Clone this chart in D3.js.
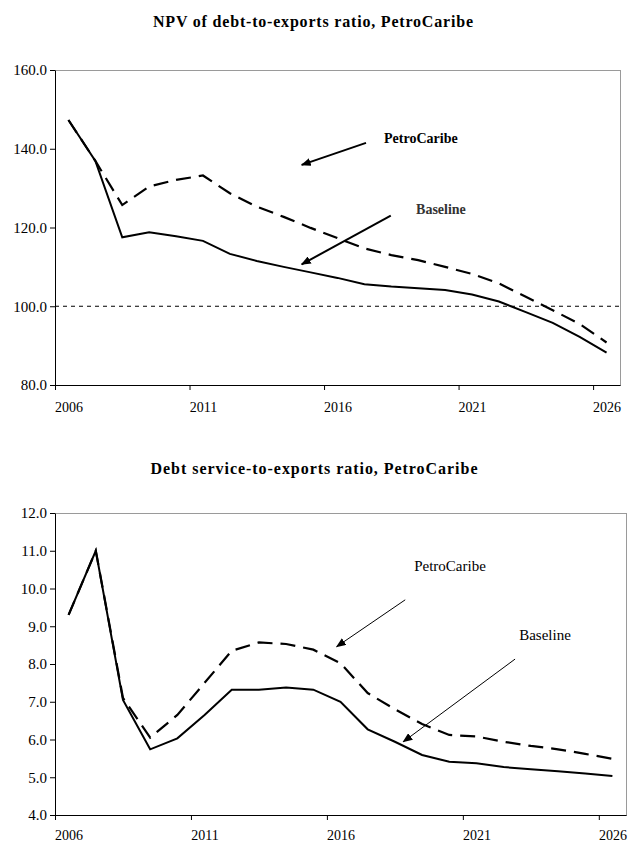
<!DOCTYPE html>
<html lang="en">
<head>
<meta charset="UTF-8">
<script src="https://d3js.org/d3.v7.min.js"></script>
<title>PetroCaribe debt ratios</title>
<style>
  body { margin: 0; background: #fff; }
  svg { display: block; }
</style>
</head>
<body>
<div id="chart"></div>
<script>
// categories
const years = [2006, 2007, 2008, 2009, 2010, 2011, 2012, 2013, 2014, 2015, 2016,
               2017, 2018, 2019, 2020, 2021, 2022, 2023, 2024, 2025, 2026];
const yearLabels = [2006, 2011, 2016, 2021, 2026];

// NPV of debt-to-exports ratio
const npvBaseline = [147.3, 136.9, 117.5, 118.8, 117.8, 116.6, 113.3, 111.5, 110.0, 108.6, 107.2,
                     105.6, 105.0, 104.6, 104.1, 103.0, 101.2, 98.5, 95.8, 92.2, 88.2];
const npvPetro = [147.3, 136.9, 125.7, 130.4, 132.1, 133.2, 128.7, 125.3, 122.7, 119.9, 117.3,
                  114.7, 113.0, 111.7, 110.0, 108.2, 105.8, 102.4, 99.0, 95.5, 90.8];
const npvTicks = [80, 100, 120, 140, 160];
const npvThreshold = 100;

// Debt service-to-exports ratio
const dsBaseline = [9.3, 11.0, 7.05, 5.74, 6.03, 6.65, 7.32, 7.32, 7.38, 7.32, 7.0,
                    6.27, 5.94, 5.59, 5.41, 5.37, 5.27, 5.21, 5.16, 5.10, 5.03];
const dsPetro = [9.3, 11.0, 7.1, 6.05, 6.65, 7.5, 8.35, 8.57, 8.53, 8.38, 8.02,
                 7.23, 6.8, 6.41, 6.12, 6.08, 5.94, 5.83, 5.74, 5.62, 5.49];
const dsTicks = [4, 5, 6, 7, 8, 9, 10, 11, 12];

// annotation labels and arrows, in data units [year, value]
const noteNames = ['PetroCaribe', 'Baseline'];
const npvNoteAt = [[2017.73, 142.65], [2018.92, 124.6]];
const npvArrowFrom = [[2017.06, 141.5], [2017.98, 123.0]];
const npvArrowTo = [[2014.67, 135.9], [2014.67, 110.65]];
const dsNoteAt = [[2018.71, 10.59], [2022.57, 8.76]];
const dsArrowFrom = [[2018.38, 9.70], [2022.42, 8.13]];
const dsArrowTo = [[2015.86, 8.46], [2018.31, 5.94]];

const width = 629;
const height = 843;
const serif = '"Liberation Serif", "Times New Roman", Times, serif';

const svg = d3.select('#chart')
    .append('svg')
    .attr('width', width)
    .attr('height', height)
    .style('font-family', serif);

// arrowheads
const defs = svg.append('defs');
defs.append('marker')
    .attr('id', 'head')
    .attr('markerUnits', 'userSpaceOnUse')
    .attr('markerWidth', 10)
    .attr('markerHeight', 8)
    .attr('refX', 9)
    .attr('refY', 4)
    .attr('orient', 'auto')
    .append('path')
    .attr('d', 'M0,0L10,4L0,8Z')
    .attr('fill', '#000');

function drawPanel(p) {
    const x = d3.scaleLinear()
        .domain([years[0] - 0.5, years[years.length - 1] + 0.5])
        .range([p.left, p.right]);
    const y = d3.scaleLinear()
        .domain([p.yTicks[0], p.yTicks[p.yTicks.length - 1]])
        .range([p.bottom, p.top]);

    const g = svg.append('g');

    // title
    g.append('text')
        .attr('x', p.titleX)
        .attr('y', p.titleY)
        .attr('text-anchor', 'middle')
        .attr('font-weight', 'bold')
        .attr('font-size', 16)
        .attr('textLength', p.titleWidth)
        .attr('lengthAdjust', 'spacing')
        .style('font-family', serif)
        .text(p.title);

    // plot area border (grey on top and right)
    g.append('rect')
        .attr('x', p.left + 0.5)
        .attr('y', p.top + 0.5)
        .attr('width', p.right - p.left)
        .attr('height', p.bottom - p.top)
        .attr('fill', 'none')
        .attr('stroke', '#9a9a9a');

    if (p.threshold !== undefined) {
        g.append('line')
            .attr('x1', p.left).attr('x2', p.right)
            .attr('y1', y(p.threshold)).attr('y2', y(p.threshold))
            .attr('stroke', '#000')
            .attr('stroke-width', 1.2)
            .attr('stroke-dasharray', '4,4');
    }

    const line = d3.line()
        .x((d, i) => x(years[i]))
        .y(d => y(d));

    g.append('path')
        .datum(p.petro)
        .attr('fill', 'none')
        .attr('stroke', '#000')
        .attr('stroke-width', 2.2)
        .attr('stroke-dasharray', '15,8')
        .attr('d', line);

    g.append('path')
        .datum(p.base)
        .attr('fill', 'none')
        .attr('stroke', '#000')
        .attr('stroke-width', 2)
        .attr('d', line);

    // axes
    const yAxis = d3.axisLeft(y)
        .tickValues(p.yTicks)
        .tickFormat(d3.format('.1f'))
        .tickSize(5)
        .tickSizeOuter(0)
        .tickPadding(3);
    g.append('g')
        .attr('transform', `translate(${p.left},0)`)
        .call(yAxis)
        .attr('font-family', null)
        .attr('font-size', 15)
        .style('font-family', serif);

    const xTickMarks = d3.axisBottom(x)
        .tickValues(yearLabels.map(d => d - 0.5))
        .tickSize(5)
        .tickSizeOuter(0)
        .tickFormat('');
    g.append('g')
        .attr('transform', `translate(0,${p.bottom})`)
        .call(xTickMarks);

    const xLabels = d3.axisBottom(x)
        .tickValues(yearLabels)
        .tickSize(0)
        .tickPadding(p.labelPad)
        .tickFormat(d3.format('d'));
    g.append('g')
        .attr('transform', `translate(0,${p.bottom})`)
        .call(xLabels)
        .attr('font-family', null)
        .attr('font-size', 14)
        .style('font-family', serif)
        .call(a => a.select('.domain').remove());

    // annotations
    noteNames.forEach((name, i) => {
        g.append('line')
            .attr('x1', x(p.from[i][0])).attr('y1', y(p.from[i][1]))
            .attr('x2', x(p.to[i][0])).attr('y2', y(p.to[i][1]))
            .attr('stroke', '#000')
            .attr('stroke-width', p.arrowWidth)
            .attr('marker-end', 'url(#head)');
        g.append('text')
            .attr('x', x(p.at[i][0]))
            .attr('y', y(p.at[i][1]))
            .attr('dy', '0.33em')
            .attr('font-size', p.noteSize)
            .attr('font-weight', p.noteWeight)
            .attr('fill', p.noteColor[i])
            .style('font-family', serif)
            .text(name);
    });
}

drawPanel({
    title: 'NPV of debt-to-exports ratio, PetroCaribe',
    titleX: 313, titleY: 27, titleWidth: 320,
    left: 55, right: 620, top: 70, bottom: 385,
    yTicks: npvTicks, threshold: npvThreshold,
    base: npvBaseline, petro: npvPetro,
    at: npvNoteAt, from: npvArrowFrom, to: npvArrowTo,
    labelPad: 17, arrowWidth: 2, noteSize: 14, noteWeight: 'bold',
    noteColor: ['#000', '#333']
});

drawPanel({
    title: 'Debt service-to-exports ratio, PetroCaribe',
    titleX: 314, titleY: 474, titleWidth: 327,
    left: 55, right: 626, top: 513, bottom: 815,
    yTicks: dsTicks,
    base: dsBaseline, petro: dsPetro,
    at: dsNoteAt, from: dsArrowFrom, to: dsArrowTo,
    labelPad: 15, arrowWidth: 1, noteSize: 15, noteWeight: 'normal',
    noteColor: ['#000', '#000']
});
</script>
</body>
</html>
